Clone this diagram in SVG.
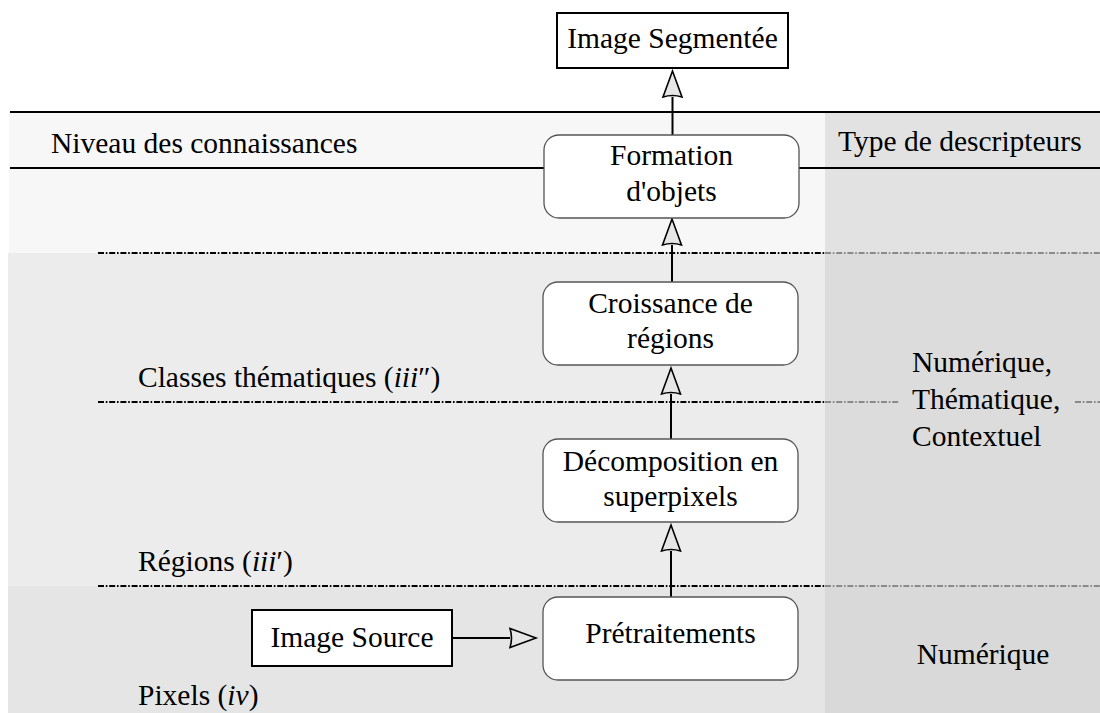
<svg xmlns="http://www.w3.org/2000/svg" width="1100" height="713" viewBox="0 0 1100 713">
<defs>
<style>
text{font-family:'Liberation Serif','Times New Roman',serif;font-size:29.5px;fill:#000}
.c{text-anchor:middle}
.rbox{fill:#fff;stroke:#555;stroke-width:1.3}
.sbox{fill:#fff;stroke:#000;stroke-width:2}
.sep{stroke:#000;stroke-width:2}
.dd{stroke:#000;stroke-width:2;stroke-dasharray:6 1.8 1.6 1.8;fill:none}
.ddg{stroke:#8a8a8a;stroke-width:2;stroke-dasharray:6 1.8 1.6 1.8;fill:none}
.arr{stroke:#000;stroke-width:2;fill:none;marker-end:url(#head)}
</style>
<marker id="head" markerUnits="userSpaceOnUse" markerWidth="30" markerHeight="24" refX="0" refY="10" orient="auto" viewBox="-1 -2 30 24">
<path d="M26,10 L0,0.5 Q3,10 0,19.5 Z" fill="#e6e6e6" stroke="#000" stroke-width="1.6" stroke-linejoin="miter"/>
</marker>
</defs>
<rect x="0" y="0" width="1100" height="713" fill="#fff"/>
<g id="background">
<rect x="9" y="112" width="816" height="141" fill="#f7f7f7"/>
<rect x="8" y="253" width="817" height="333" fill="#ececec"/>
<rect x="8" y="586" width="817" height="127" fill="#e5e5e5"/>
<rect x="825" y="112" width="275" height="141" fill="#e2e2e2"/>
<rect x="825" y="253" width="275" height="333" fill="#dcdcdc"/>
<rect x="825" y="586" width="275" height="127" fill="#d9d9d9"/>
<line class="sep" x1="10" y1="112" x2="1100" y2="112"/>
<line class="sep" x1="10" y1="168" x2="1100" y2="168"/>
<line class="dd" x1="98" y1="253" x2="825" y2="253"/>
<line class="ddg" x1="825" y1="253" x2="1100" y2="253"/>
<line class="dd" x1="98" y1="402" x2="825" y2="402"/>
<line class="ddg" x1="825" y1="402" x2="900" y2="402"/>
<line class="ddg" x1="1075" y1="402" x2="1100" y2="402"/>
<line class="dd" x1="98" y1="586" x2="825" y2="586"/>
<line class="ddg" x1="825" y1="586" x2="1100" y2="586"/>
</g>
<g id="labels">
<text x="51" y="153">Niveau des connaissances</text>
<text x="838" y="151">Type de descripteurs</text>
<text x="138" y="387">Classes thématiques (<tspan font-style="italic">iii</tspan>″)</text>
<text x="138" y="571">Régions (<tspan font-style="italic">iii</tspan>′)</text>
<text x="138" y="705">Pixels (<tspan font-style="italic">iv</tspan>)</text>
<text x="912" y="372">Numérique,</text>
<text x="912" y="409">Thématique,</text>
<text x="912" y="446">Contextuel</text>
<text x="983" y="664" class="c">Numérique</text>
</g>
<g id="connectors">
<line class="arr" x1="672.5" y1="135" x2="672.5" y2="97"/>
<line class="arr" x1="672" y1="282" x2="672" y2="245"/>
<line class="arr" x1="671" y1="439" x2="671" y2="394"/>
<line class="arr" x1="671" y1="597" x2="671" y2="551"/>
<line class="arr" x1="452" y1="638" x2="510" y2="638"/>
</g>
<g id="node-image-segmentee">
<rect class="sbox" x="557" y="13" width="231" height="55"/>
<text x="672.5" y="48" class="c">Image Segmentée</text>
</g>
<g id="node-formation">
<rect class="rbox" x="544" y="135" width="255" height="83" rx="15"/>
<text x="671.5" y="165" class="c">Formation</text>
<text x="671.5" y="201" class="c">d'objets</text>
</g>
<g id="node-croissance">
<rect class="rbox" x="543" y="282" width="255" height="83" rx="15"/>
<text x="670.5" y="313" class="c">Croissance de</text>
<text x="670.5" y="348" class="c">régions</text>
</g>
<g id="node-decomposition">
<rect class="rbox" x="543" y="439" width="255" height="83" rx="15"/>
<text x="670.5" y="471" class="c">Décomposition en</text>
<text x="670.5" y="506" class="c">superpixels</text>
</g>
<g id="node-pretraitements">
<rect class="rbox" x="543" y="597" width="255" height="83" rx="15"/>
<text x="670.5" y="643" class="c">Prétraitements</text>
</g>
<g id="node-image-source">
<rect class="sbox" x="252" y="610" width="200" height="56"/>
<text x="352" y="647" class="c">Image Source</text>
</g>
</svg>
